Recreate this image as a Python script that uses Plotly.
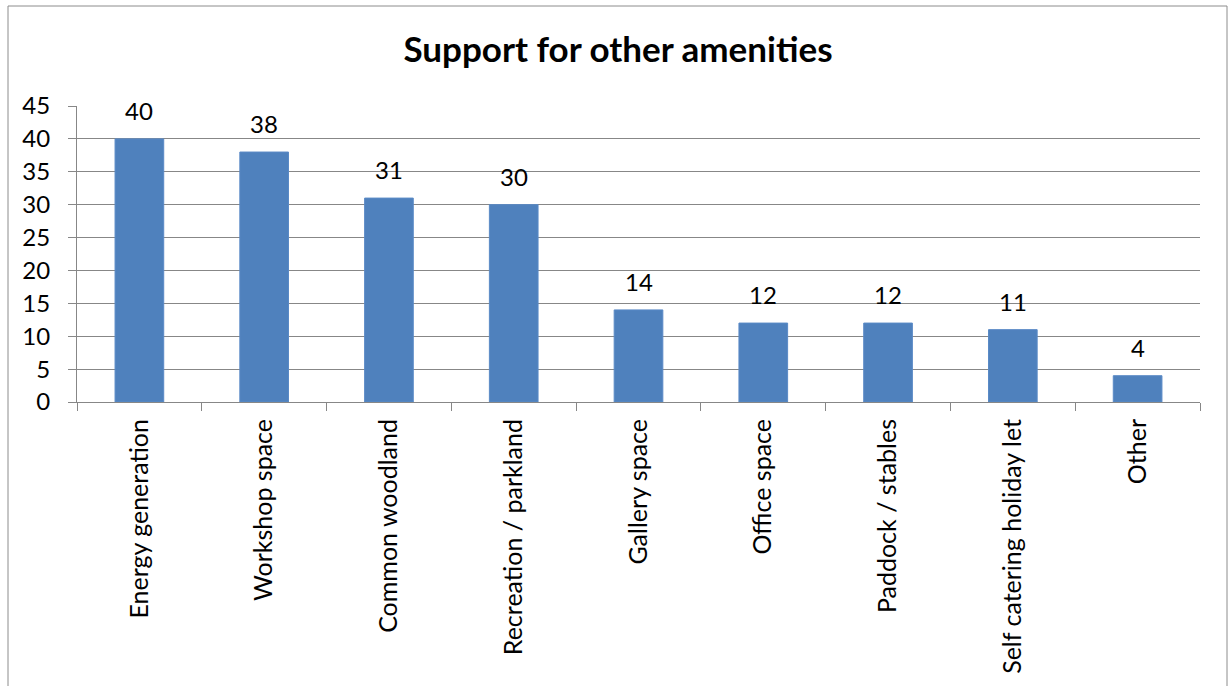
import plotly.graph_objects as go

categories = [
    "Energy generation",
    "Workshop space",
    "Common woodland",
    "Recreation / parkland",
    "Gallery space",
    "Office space",
    "Paddock / stables",
    "Self catering holiday let",
    "Other",
]
counts = [40, 38, 31, 30, 14, 12, 12, 11, 4]
y_ticks = list(range(0, 50, 5))

FONT = "Lato"
GRID = "#878787"
BAR = "#4F81BD"

W, H = 1229, 686
L, R, T, B = 77, 29, 106, 284
pw, ph = W - L - R, H - T - B

fig = go.Figure(
    go.Bar(
        x=categories,
        y=counts,
        marker=dict(color=BAR, line=dict(color="#5A8AC6", width=1)),
        width=0.39,
        hoverinfo="x+y",
    )
)

# value labels above each bar
for c, v in zip(categories, counts):
    fig.add_annotation(
        x=c, y=v, text=str(v), showarrow=False,
        yanchor="bottom", yshift=12,
        font=dict(family=FONT, size=24, color="black"),
    )

# outer chart frame
def px_to_paper_x(px):
    return (px - L) / pw

def px_to_paper_y(py):
    return (H - B - py) / ph

fig.add_shape(
    type="rect", xref="paper", yref="paper",
    x0=px_to_paper_x(8), x1=px_to_paper_x(1227),
    y0=px_to_paper_y(690), y1=px_to_paper_y(6),
    line=dict(color="#8c8c8c", width=1), fillcolor="rgba(0,0,0,0)",
    layer="below",
)

fig.update_layout(
    width=W, height=H,
    margin=dict(l=L, r=R, t=T, b=B, autoexpand=False),
    paper_bgcolor="white", plot_bgcolor="white",
    showlegend=False,
    title=dict(
        text="<b>Support for other amenities</b>",
        x=618 / W, xref="container", xanchor="center",
        y=1 - 50 / H, yanchor="middle",
        font=dict(family=FONT, size=35, color="black"),
    ),
    font=dict(family=FONT, color="black"),
)

fig.update_xaxes(
    type="category",
    tickangle=-90,
    tickfont=dict(family=FONT, size=25, color="black"),
    showline=True, linecolor=GRID, linewidth=1,
    ticks="outside", tickson="boundaries", ticklen=8, tickcolor=GRID,
    ticklabelstandoff=6,
    showgrid=False,
)
fig.update_yaxes(
    range=[0, 45],
    tickvals=y_ticks,
    tickfont=dict(family=FONT, size=24, color="black"),
    showline=True, linecolor=GRID, linewidth=1,
    ticks="outside", ticklen=8, tickcolor=GRID,
    ticklabelstandoff=13,
    showgrid=True, gridcolor=GRID, gridwidth=1,
    zeroline=False,
)

fig.write_html("out.html")
